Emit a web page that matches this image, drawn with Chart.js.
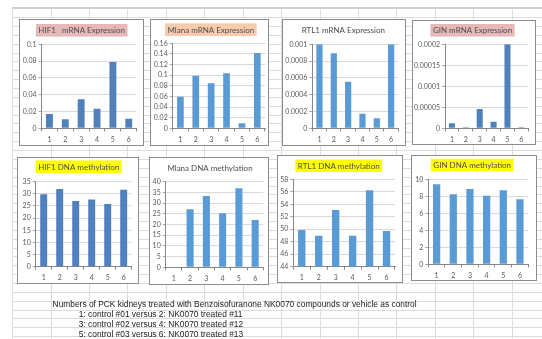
<!DOCTYPE html>
<html>
<head>
<meta charset="utf-8">
<script src="https://cdn.jsdelivr.net/npm/chart.js@4"></script>
<style>
  html, body { margin: 0; padding: 0; background: #fff; }
  #sheet { position: relative; width: 542px; height: 339px; overflow: hidden; background: #fff; }
  #grid { position: absolute; left: 0; top: 0; }
  .box { position: absolute; box-sizing: border-box; border: 1px solid #8c8c8c; background: #fff; }
  .box canvas { position: absolute; left: 0; top: 0; }
  .note { position: absolute; font-family: "Liberation Sans", Arial, sans-serif; font-size: 8.4px;
          color: #1a1a1a; white-space: pre; line-height: 10px; }
</style>
</head>
<body>
<div id="sheet">
  <canvas id="grid" width="542" height="339"></canvas>
</div>
<script>
// ---- data ----
const categories = ['1', '2', '3', '4', '5', '6'];

const hif1Mrna   = [0.017, 0.0107, 0.0345, 0.0233, 0.079, 0.0114];
const mlanaMrna  = [0.0595, 0.099, 0.0847, 0.1035, 0.0094, 0.1417];
const rtl1Mrna   = [0.001, 0.000893, 0.000555, 0.000174, 0.000119, 0.001];
const ginMrna    = [0.0000119, 0.0000024, 0.000046, 0.0000157, 0.0002, 0.0000024];

const hif1Methyl  = [29.8, 32.0, 27.05, 27.7, 25.8, 31.7];
const mlanaMethyl = [0, 27.1, 33.3, 25.2, 36.9, 22.1];
const rtl1Methyl  = [49.88, 48.97, 53.08, 48.97, 56.24, 49.72];
const ginMethyl   = [9.41, 8.24, 8.86, 8.07, 8.7, 7.65];

const hif1MrnaTicks   = ['0', '0.02', '0.04', '0.06', '0.08', '0.1'];
const mlanaMrnaTicks  = ['0', '0.02', '0.04', '0.06', '0.08', '0.1', '0.12', '0.14', '0.16'];
const rtl1MrnaTicks   = ['0', '0.0002', '0.0004', '0.0006', '0.0008', '0.001'];
const ginMrnaTicks    = ['0', '0.00005', '0.0001', '0.00015', '0.0002'];
const hif1MethylTicks  = ['0', '5', '10', '15', '20', '25', '30', '35'];
const mlanaMethylTicks = ['0', '5', '10', '15', '20', '25', '30', '35', '40'];
const rtl1MethylTicks  = ['44', '46', '48', '50', '52', '54', '56', '58'];
const ginMethylTicks   = ['0', '2', '4', '6', '8', '10'];

const noteLines = [
  'Numbers of PCK kidneys treated with Benzoisofuranone NK0070 compounds or vehicle as control',
  '1: control #01 versus 2: NK0070 treated #11',
  '3: control #02 versus 4: NK0070 treated #12',
  '5: control #03 versus 6: NK0070 treated #13'
];

// ---- styling ----
const DARK = '#4F81BD', LIGHT = '#5B9BD5';
const PINK = '#E6B9B8', PEACH = '#F9CBAD', YELLOW = '#FFFF00';
const FONT = 'Lato, "Open Sans", sans-serif';

// panel frames in page pixels: box = [left, top, right, bottom], plot = chart area
const panels = [
  { box: [19, 19, 144, 146],  plot: [41.5, 44.3, 136.7, 128.3], title: 'HIF1   mRNA Expression', tx: 81.7,  ty: 30.3,  bg: PINK,   color: DARK,  data: hif1Mrna,    ticks: hif1MrnaTicks },
  { box: [150, 19, 269, 146], plot: [172.7, 43.3, 265, 128.3],  title: 'Mlana mRNA Expression',  tx: 210.8, ty: 29.7,  bg: PEACH,  color: LIGHT, data: mlanaMrna,   ticks: mlanaMrnaTicks },
  { box: [282, 19, 406, 146], plot: [312.3, 44.3, 398.3, 128.3], title: 'RTL1 mRNA Expression',  tx: 343.3, ty: 30,    bg: null,   color: LIGHT, data: rtl1Mrna,    ticks: rtl1MrnaTicks },
  { box: [412, 20, 536, 145], plot: [445, 44.3, 528.3, 128.3],  title: 'GIN mRNA Expression',    tx: 472.5, ty: 30.3,  bg: PINK,   color: DARK,  data: ginMrna,     ticks: ginMrnaTicks },
  { box: [17, 157, 139, 284], plot: [35.7, 181.7, 131.7, 266.7], title: 'HIF1 DNA methylation', tx: 78.7,  ty: 166.7, bg: YELLOW, color: DARK,  data: hif1Methyl,  ticks: hif1MethylTicks },
  { box: [149, 157, 269, 285], plot: [165.7, 181.7, 263.3, 267.3], title: 'Mlana DNA methylation', tx: 210, ty: 168.3, bg: null,   color: LIGHT, data: mlanaMethyl, ticks: mlanaMethylTicks },
  { box: [277, 155, 403, 283], plot: [293.3, 179.3, 395, 266.7], title: 'RTL1 DNA methylation', tx: 338.8, ty: 165.8, bg: YELLOW, color: LIGHT, data: rtl1Methyl,  ticks: rtl1MethylTicks },
  { box: [411, 155, 537, 281], plot: [428.3, 179.3, 528.3, 264.3], title: 'GIN DNA methylation', tx: 472.2, ty: 165,   bg: YELLOW, color: LIGHT, data: ginMethyl,   ticks: ginMethylTicks }
];

// ---- worksheet grid behind the charts ----
(function drawSheet() {
  const g = document.getElementById('grid').getContext('2d');
  g.strokeStyle = '#DCDCDC';
  g.lineWidth = 1;
  const colX = [];
  for (let k = 0; k < 15; k++) colX.push(Math.round(12.3 + 38.4 * k) + 0.5);
  const rowY = [];
  for (let y = 8.3; y < 340; y += 8.86) rowY.push(Math.round(y) + 0.5);
  colX.forEach(x => { g.beginPath(); g.moveTo(x, 8); g.lineTo(x, 339); g.stroke(); });
  // cells covered by the overflowing note text have no vertical rules
  g.fillStyle = '#fff';
  [{ y0: 300, y1: 309, x0: 80, x1: 420 }, { y0: 309, y1: 339, x0: 80, x1: 253 }]
    .forEach(s => g.fillRect(s.x0, s.y0, s.x1 - s.x0, s.y1 - s.y0));
  rowY.forEach(y => { g.beginPath(); g.moveTo(12, y); g.lineTo(542, y); g.stroke(); });
  // header rule
  g.fillStyle = '#D0D0D0';
  g.fillRect(12, 7, 530, 2);
})();

// ---- chart title with optional highlight ----
const titleTag = {
  id: 'titleTag',
  afterDraw(chart, args, o) {
    const ctx = chart.ctx;
    ctx.save();
    ctx.font = o.size + 'px ' + FONT;
    const w = ctx.measureText(o.text).width;
    if (o.bg) {
      ctx.fillStyle = o.bg;
      ctx.fillRect(o.x - w / 2 - 2.5, o.y - 6.3, w + 5, 12.6);
    }
    ctx.fillStyle = '#4d4d4d';
    ctx.textAlign = 'center';
    ctx.textBaseline = 'middle';
    ctx.fillText(o.text, o.x, o.y + 0.5);
    ctx.restore();
  }
};

const sheet = document.getElementById('sheet');
panels.forEach(p => {
  const [bx0, by0, bx1, by1] = p.box;
  const div = document.createElement('div');
  div.className = 'box';
  div.style.left = bx0 + 'px';
  div.style.top = by0 + 'px';
  div.style.width = (bx1 - bx0) + 'px';
  div.style.height = (by1 - by0) + 'px';
  const cv = document.createElement('canvas');
  const W = bx1 - bx0 - 2, H = by1 - by0 - 2;
  cv.width = W; cv.height = H;
  cv.style.width = W + 'px'; cv.style.height = H + 'px';
  div.appendChild(cv);
  sheet.appendChild(div);

  const ox = bx0 + 1, oy = by0 + 1;
  const left = p.plot[0] - ox, top = p.plot[1] - oy, right = p.plot[2] - ox, bottom = p.plot[3] - oy;
  const labels = p.ticks;

  new Chart(cv, {
    type: 'bar',
    data: {
      labels: categories,
      datasets: [{ data: p.data, backgroundColor: p.color, borderWidth: 0,
                   barPercentage: 0.435, categoryPercentage: 1 }]
    },
    plugins: [titleTag],
    options: {
      responsive: false,
      animation: false,
      devicePixelRatio: 1,
      layout: { padding: { left: 0, top: top, right: W - right, bottom: 0 } },
      plugins: {
        legend: { display: false },
        tooltip: { enabled: false },
        titleTag: { text: p.title, x: p.tx - ox, y: p.ty - oy, bg: p.bg, size: 8 }
      },
      scales: {
        x: {
          grid: { display: true, drawOnChartArea: false, drawTicks: true, tickLength: 3,
                  tickColor: '#868686', offset: true },
          border: { display: true, color: '#868686' },
          ticks: { font: { family: FONT, size: 7 }, color: '#595959', padding: 4,
                   maxRotation: 0, autoSkip: false },
          afterFit: s => { s.height = H - bottom; }
        },
        y: {
          min: parseFloat(labels[0]),
          max: parseFloat(labels[labels.length - 1]),
          grid: { color: '#D9D9D9', tickLength: 3, tickColor: '#A6A6A6' },
          border: { display: true, color: '#868686' },
          ticks: { font: { family: FONT, size: 7 }, color: '#595959', padding: 2,
                   autoSkip: false, callback: (v, i) => labels[i] },
          afterBuildTicks: s => { s.ticks = labels.map(t => ({ value: parseFloat(t) })); },
          afterFit: s => { s.width = left; }
        }
      }
    }
  });
});

// ---- notes under the charts ----
const notePos = [[52.6, 303.5], [78.8, 313.5], [78.8, 323.5], [78.8, 333.5]];
noteLines.forEach((t, i) => {
  const d = document.createElement('div');
  d.className = 'note';
  d.textContent = t;
  d.style.left = notePos[i][0] + 'px';
  d.style.top = (notePos[i][1] - 5) + 'px';
  sheet.appendChild(d);
});
</script>
</body>
</html>
